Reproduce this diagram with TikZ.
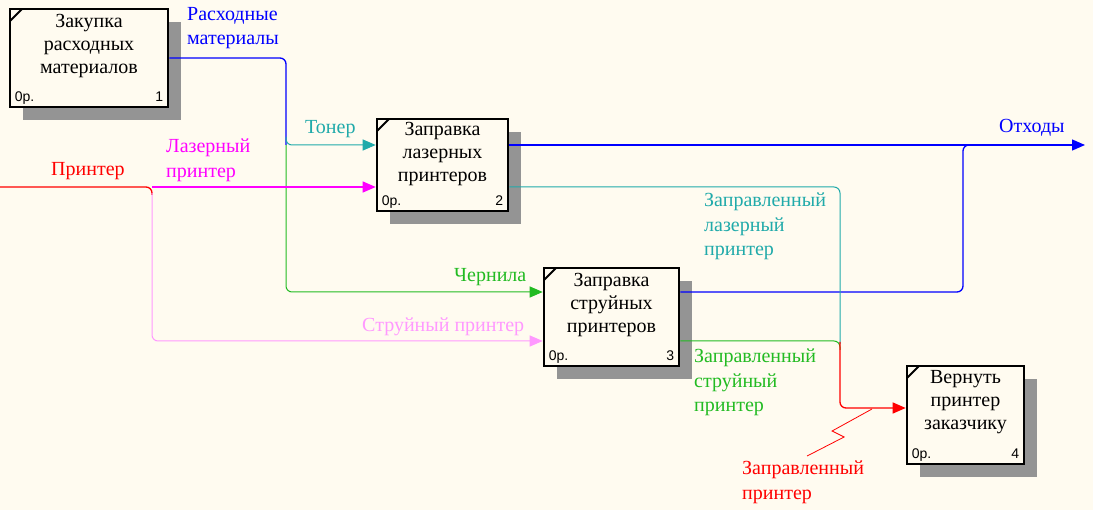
\documentclass[tikz,border=0pt]{standalone}
\usepackage{fontspec}
\setmainfont{Liberation Serif}
\newfontfamily\numfont{Liberation Sans}
\usetikzlibrary{positioning,arrows.meta,shadows}

\definecolor{bgc}{RGB}{255,251,240}
\definecolor{tonerc}{RGB}{32,170,170}
\definecolor{inkc}{RGB}{34,187,34}
\definecolor{jetc}{RGB}{255,153,255}
\definecolor{lazc}{RGB}{255,0,255}
\definecolor{bluec}{RGB}{0,0,255}
\definecolor{redc}{RGB}{255,0,0}

\begin{document}
\begin{tikzpicture}[x=1pt,y=-1pt,
   func/.style={draw, line width=2.6pt, fill=bgc, minimum height=98pt, inner sep=0pt,
      drop shadow={shadow xshift=13pt, shadow yshift=-13pt, opacity=1, fill=black!42},
      path picture={\draw[line width=2pt] ([yshift=-12pt]path picture bounding box.north west)
         -- ([xshift=12pt]path picture bounding box.north west);}},
   ttl/.style={font=\fontsize{20}{23}\selectfont, align=center, inner sep=0pt},
   num/.style={font=\numfont\fontsize{14}{16}\selectfont, inner sep=0pt},
   lbl/.style={font=\fontsize{20}{24.5}\selectfont, align=left, inner sep=0pt, anchor=north west},
   flow/.style={line width=1pt, rounded corners=6pt},
   tip/.style={-{Triangle[length=13pt,width=11pt]}}]
   \fill[bgc] (0,0) rectangle (1093,510);
   \useasboundingbox (0,0) rectangle (1093,510);

   % functions
   \node[func, minimum width=158pt] (zak) at (89,58) {};
   \node[func, minimum width=131pt, minimum height=92pt] (lz) at (442.5,165) {};
   \node[func, minimum width=135pt] (st) at (611.5,317) {};
   \node[func, minimum width=117pt] (vz) at (965.5,415) {};

   \node[ttl, below=6pt of zak.north] {Закупка\\расходных\\материалов};
   \node[ttl, below=4pt of lz.north]  {Заправка\\лазерных\\принтеров};
   \node[ttl, below=6pt of st.north]  {Заправка\\струйных\\принтеров};
   \node[ttl, below=6pt of vz.north]  {Вернуть\\принтер\\заказчику};

   \node[num, anchor=base west] at ([shift={(6pt,7pt)}]zak.south west) {0р.};
   \node[num, anchor=base east] at ([shift={(-6pt,7pt)}]zak.south east) {1};
   \node[num, anchor=base west] at ([shift={(6pt,7pt)}]lz.south west) {0р.};
   \node[num, anchor=base east] at ([shift={(-6pt,7pt)}]lz.south east) {2};
   \node[num, anchor=base west] at ([shift={(6pt,7pt)}]st.south west) {0р.};
   \node[num, anchor=base east] at ([shift={(-6pt,7pt)}]st.south east) {3};
   \node[num, anchor=base west] at ([shift={(6pt,7pt)}]vz.south west) {0р.};
   \node[num, anchor=base east] at ([shift={(-6pt,7pt)}]vz.south east) {4};

   % junctions
   \coordinate (rsj) at (286,145);
   \coordinate (prj) at (152,187);
   \coordinate (pin) at (0,187);
   \coordinate (out) at (1085,145);
   \coordinate (otj) at (963,145);
   \coordinate (zpj) at (840,344);
   \coordinate (zzj) at (872,409);

   % arrows
   \draw[flow, bluec, line width=1.3pt] (zak.east) -| (rsj);
   \draw[flow, tonerc, tip] ([yshift=8pt]rsj) |- ([yshift=20pt]lz.west);
   \draw[flow, inkc, tip] (rsj) |- ([yshift=25pt]st.west);
   \draw[flow, redc, line width=1.3pt] (pin) -| ([yshift=-8pt]prj);
   \draw[flow, lazc, line width=1.3pt, tip] (prj) -- ([yshift=-22pt]lz.west);
   \draw[flow, jetc, tip] ([yshift=-6pt]prj) |- ([yshift=-24pt]st.west);
   \draw[flow, bluec, line width=1.3pt, tip] ([yshift=20pt]lz.east) -- (out);
   \draw[flow, bluec, line width=1.3pt] ([yshift=25pt]st.east) -| (otj) -- ++(12,0);
   \draw[flow, tonerc] ([yshift=-22pt]lz.east) -| (zpj);
   \draw[flow, inkc] ([yshift=-24pt]st.east) -| ([yshift=-6pt]zpj);
   \draw[flow, redc, line width=1.3pt, tip] ([yshift=2pt]zpj) |- ([yshift=7pt]vz.west);

   % labels
   \node[lbl, bluec]   (rsl) at (187,7)   {Расходные\\материалы};
   \node[lbl, lazc]    (lzl) at (166,139) {Лазерный\\принтер};
   \node[lbl, redc]    (prl) at (51,162)  {Принтер};
   \node[lbl, tonerc]  (tnl) at (305,120) {Тонер};
   \node[lbl, bluec]   (otl) at (999,119) {Отходы};
   \node[lbl, tonerc]  (zll) at (704,193) {Заправленный\\лазерный\\принтер};
   \node[lbl, inkc]    (chl) at (454,268) {Чернила};
   \node[lbl, jetc]    (stl) at (362,318) {Струйный принтер};
   \node[lbl, inkc]    (zsl) at (694,349) {Заправленный\\струйный\\принтер};
   \node[lbl, redc]    (zpl) at (742,461) {Заправленный\\принтер};

   \draw[redc, line width=0.8pt] ([shift={(4pt,5pt)}]zpl.north) -- ++(37,-19) -- ++(-12,-6) -- (zzj);
\end{tikzpicture}
\end{document}
